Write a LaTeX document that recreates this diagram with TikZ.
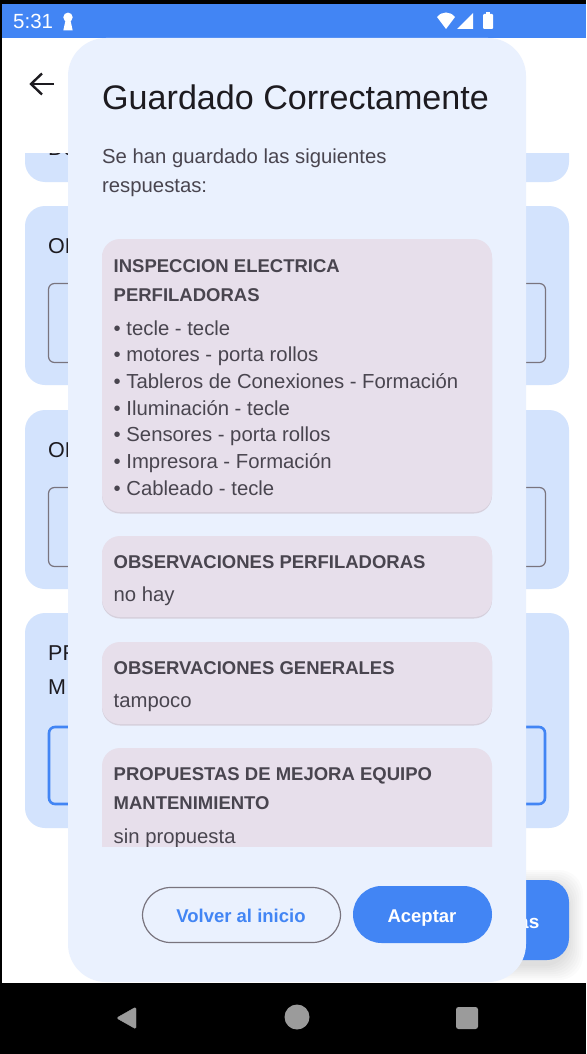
\documentclass[tikz,border=0pt]{standalone}
\usepackage{fontspec}
\setmainfont{Liberation Sans}
\usepackage{xcolor}
\usetikzlibrary{arrows.meta}
\definecolor{barblue}{HTML}{4285F4}
\definecolor{dialogbg}{HTML}{EAF1FE}
\definecolor{formbg}{HTML}{D3E3FD}
\definecolor{answerbg}{HTML}{E7DFEB}
\definecolor{answershade}{HTML}{D6D0DC}
\definecolor{bodytext}{HTML}{49454F}
\definecolor{titletext}{HTML}{1D1B20}
\definecolor{outlinegray}{HTML}{79747E}
\definecolor{navgray}{HTML}{9B9B9B}
\newcommand{\pxfont}[1]{\fontsize{#1}{#1}\selectfont}
\tikzset{
    formcard/.style={fill=formbg,rounded corners=20},
    inputbox/.style={draw=outlinegray,line width=1.2,rounded corners=6},
    answercard/.style={fill=answerbg,rounded corners=18},
    headtext/.style={anchor=base west,inner sep=0,text=bodytext,font=\pxfont{18.5}\bfseries},
    bodyline/.style={anchor=base west,inner sep=0,text=bodytext,font=\pxfont{20.3}},
    formtext/.style={anchor=base west,inner sep=0,text=titletext,font=\pxfont{21.5}},
    buttontext/.style={anchor=base,inner sep=0,font=\pxfont{18.5}\bfseries},
    navshape/.style={fill=navgray,draw=navgray,line join=round,rounded corners=1.5}
}
\begin{document}
\begin{tikzpicture}[x=1pt,y=-1pt]
    \useasboundingbox (0,0) rectangle (586,1054);
    \fill[white] (0,0) rectangle (586,1054);

    % Screen behind the dialog
    \begin{scope}
        \clip (25,153) rectangle (569,182);
        \fill[formcard] (25,100) rectangle (569,182);
        \node[formtext] (formzero) at (48,155) {Do};
    \end{scope}
    \foreach \top/\bot/\name in {206/385/one,410/589/two,613/828/three} {
        \fill[formcard] (25,\top) rectangle (569,\bot);
    }
    \node[formtext] (formone) at (48,253) {OB};
    \node[formtext] (formtwo) at (48,457) {OB};
    \node[formtext] (formthree) at (48,660) {PR};
    \node[formtext] (formthreeb) at (48,694) {M};
    \draw[inputbox] (48.5,283.5) rectangle (545.5,362.5);
    \draw[inputbox] (48.5,487.5) rectangle (545.5,566.5);
    \draw[draw=barblue,line width=2.6,rounded corners=6] (49,727) rectangle (545,804);

    % Floating button with its shadow
    \foreach \grow in {14,12,10,8,6,4,2,0} {
        \fill[black,opacity=0.014,rounded corners=24] (440-\grow,884-\grow) rectangle (569+\grow,966+\grow);
    }
    \fill[barblue,rounded corners=22] (440,880) rectangle (569,960);
    \node[anchor=base west,inner sep=0,text=white,font=\pxfont{19}\bfseries] (fablabel) at (518,928) {as};

    % Back arrow
    \coordinate (arrowtip) at (31,84);
    \coordinate (arrowend) at (54,84);
    \draw[line width=2.4,titletext] (arrowend) -- (arrowtip);
    \draw[line width=2.4,titletext] (42,73.5) -- (arrowtip) -- (42,94.5);

    % Status bar
    \fill[barblue] (2,4) rectangle (586,38);
    \node[anchor=base west,inner sep=0,text=white,font=\pxfont{20.5}] (clock) at (13,29) {5:31};
    \fill[white] (68,17.3) circle (4.7);
    \fill[white] (65.8,19) -- (70.2,19) -- (72.7,30.5) -- (63.3,30.5) -- cycle;
    \fill[white] (437,17) .. controls (442,11) and (450,11) .. (455,17) -- (446,29) -- cycle;
    \fill[white] (473,13) -- (473,29) -- (457,29) -- cycle;
    \fill[white,rounded corners=1] (483,14) rectangle (493,29);
    \fill[white] (486,12) rectangle (490,15);

    % Dialog
    \fill[dialogbg,rounded corners=38] (68,38) rectangle (526,982);
    \node[anchor=base west,inner sep=0,text=titletext,font=\pxfont{34.1}] (dialogtitle) at (102,110) {Guardado Correctamente};
    \node[bodyline] (introa) at (102,163) {Se han guardado las siguientes};
    \node[bodyline] (introb) at (102,192) {respuestas:};

    % Answer cards
    \foreach \top/\bot in {239/512,536/617,642/724} {
        \fill[answershade,rounded corners=18] (102,\top+1.5) rectangle (492,\bot+1.5);
        \fill[answercard] (102,\top) rectangle (492,\bot);
    }
    \begin{scope}
        \clip (102,700) rectangle (492,846);
        \fill[answercard] (102,748) rectangle (492,880);
        \node[bodyline] (answerfour) at (113.5,843) {sin propuesta};
    \end{scope}

    \node[headtext] (heada) at (113.5,272) {INSPECCION ELECTRICA};
    \node[headtext] (headb) at (113.5,301) {PERFILADORAS};
    \foreach \y/\txt/\name in {335/tecle - tecle/a,361/motores - porta rollos/b,
        388/Tableros de Conexiones - Formación/c,415/Iluminación - tecle/d,
        441/Sensores - porta rollos/e,468/Impresora - Formación/f,495/Cableado - tecle/g} {
        \node[bodyline] (item\name) at (113.5,\y) {• \txt};
    }
    \node[headtext] (headc) at (113.5,568) {OBSERVACIONES PERFILADORAS};
    \node[bodyline] (answertwo) at (113.5,601) {no hay};
    \node[headtext] (headd) at (113.5,674) {OBSERVACIONES GENERALES};
    \node[bodyline] (answerthree) at (113.5,707) {tampoco};
    \node[headtext] (heade) at (113.5,780) {PROPUESTAS DE MEJORA EQUIPO};
    \node[headtext] (headf) at (113.5,809) {MANTENIMIENTO};

    % Dialog buttons
    \draw[draw=outlinegray,line width=1.2,rounded corners=28] (142.5,887.5) rectangle (340.5,942.5);
    \node[buttontext,text=barblue] (backlabel) at (241,922.7) {Volver al inicio};
    \fill[barblue,rounded corners=28.5] (353,886) rectangle (492,943);
    \node[buttontext,text=white] (oklabel) at (422,922.7) {Aceptar};

    % Navigation bar
    \fill[black] (0,983) rectangle (586,1054);
    \fill[black] (0,0) rectangle (586,4);
    \fill[black] (0,0) rectangle (2,983);
    \draw[navshape] (136,1007) -- (136,1029) -- (116.5,1018) -- cycle;
    \fill[navgray] (297,1017) circle (12.5);
    \fill[navgray,rounded corners=2.5] (456,1007) rectangle (478,1029);
\end{tikzpicture}
\end{document}
